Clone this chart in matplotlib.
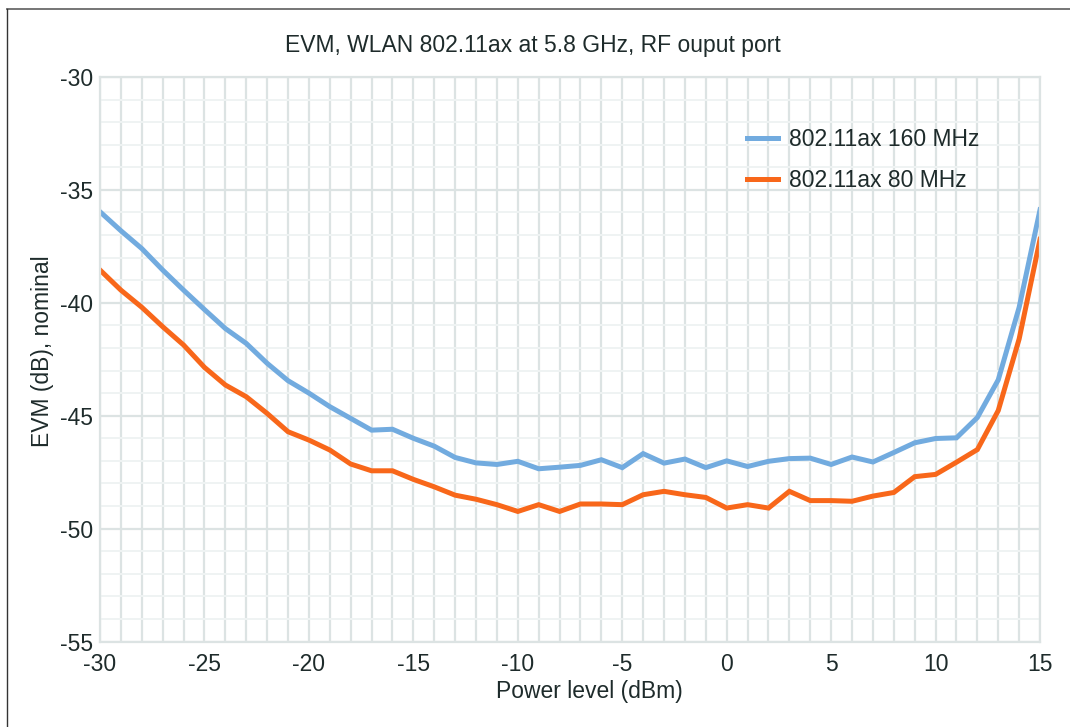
import numpy as np
import matplotlib
matplotlib.use('Agg')
import matplotlib.pyplot as plt
from matplotlib.lines import Line2D
from matplotlib.ticker import MultipleLocator

plt.rcParams['font.family'] = ['Liberation Sans', 'DejaVu Sans']
plt.rcParams['axes.unicode_minus'] = False

power_dbm = list(range(-30, 16))

evm_160 = [-35.97, -36.81, -37.6, -38.55, -39.44, -40.3, -41.14, -41.8,
           -42.68, -43.45, -44.0, -44.6, -45.12, -45.64, -45.6, -46.0,
           -46.35, -46.85, -47.09, -47.16, -47.02, -47.35, -47.28, -47.2,
           -46.95, -47.3, -46.68, -47.1, -46.92, -47.3, -47.0, -47.25,
           -47.02, -46.9, -46.88, -47.16, -46.83, -47.05, -46.63, -46.2,
           -46.01, -45.98, -45.08, -43.41, -40.2, -35.88]

evm_80 = [-38.55, -39.44, -40.2, -41.06, -41.87, -42.86, -43.64, -44.16,
          -44.9, -45.71, -46.08, -46.52, -47.14, -47.44, -47.44, -47.82,
          -48.15, -48.52, -48.7, -48.94, -49.24, -48.94, -49.24, -48.91,
          -48.91, -48.94, -48.5, -48.35, -48.5, -48.62, -49.09, -48.94,
          -49.09, -48.35, -48.76, -48.76, -48.79, -48.56, -48.4, -47.7,
          -47.6, -47.06, -46.5, -44.77, -41.6, -37.19]

labels = ['802.11ax 160 MHz', '802.11ax 80 MHz']
colors = ['#72abdf', '#f8671a']

text_c = '#1e2b2b'
grid_c = '#dce3e3'

fig = plt.figure(figsize=(10.7, 7.27), dpi=100)
ax = fig.add_axes([0.0935, 0.1176, 0.8785, 0.7765])

ax.plot(power_dbm, evm_160, color=colors[0], lw=3.6, label=labels[0],
        solid_joinstyle='miter')
ax.plot(power_dbm, evm_80, color=colors[1], lw=3.6, label=labels[1],
        solid_joinstyle='miter')

ax.set_xlim(-30, 15)
ax.set_ylim(-55, -30)
ax.xaxis.set_major_locator(MultipleLocator(5))
ax.xaxis.set_minor_locator(MultipleLocator(1))
ax.yaxis.set_major_locator(MultipleLocator(5))
ax.yaxis.set_minor_locator(MultipleLocator(1))

ax.grid(which='major', axis='both', color=grid_c, lw=1.6, zorder=0)
ax.grid(which='minor', axis='x', color=grid_c, lw=1.6, zorder=0)
ax.grid(which='minor', axis='y', color='#eff3f3', lw=1.4, zorder=0)
ax.set_axisbelow(True)

for side in ax.spines:
    ax.spines[side].set_color(grid_c)
    ax.spines[side].set_linewidth(1.6)

ax.tick_params(which='both', length=0, labelsize=16.5, colors=text_c)
ax.tick_params(axis='x', pad=8)
ax.tick_params(axis='y', pad=5)

ax.set_title('EVM, WLAN 802.11ax at 5.8 GHz, RF ouput port',
             fontsize=16.5, color=text_c, pad=18, x=0.4606)
ax.set_xlabel('Power level (dBm)', fontsize=16.5, color=text_c, labelpad=3)
ax.xaxis.label.set_x(0.521)
ax.set_ylabel('EVM (dB), nominal', fontsize=16.5, color=text_c)
ax.yaxis.set_label_coords(-0.049, 0.515)

leg = ax.legend(loc='upper left', bbox_to_anchor=(0.676, 0.93), frameon=False,
                fontsize=16.5, handlelength=1.35, handletextpad=0.5,
                labelspacing=0.78, borderpad=0)
for t in leg.get_texts():
    t.set_color(text_c)

# thin frame at top and left of the image
fig.add_artist(Line2D([7 / 1070, 1.0], [1 - 9 / 727, 1 - 9 / 727],
                      transform=fig.transFigure, color='#6a6a6a', lw=1.3))
fig.add_artist(Line2D([7 / 1070, 7 / 1070], [0.0, 1 - 9 / 727],
                      transform=fig.transFigure, color='#333333', lw=1.0))

fig.savefig('out.png', dpi=100)
